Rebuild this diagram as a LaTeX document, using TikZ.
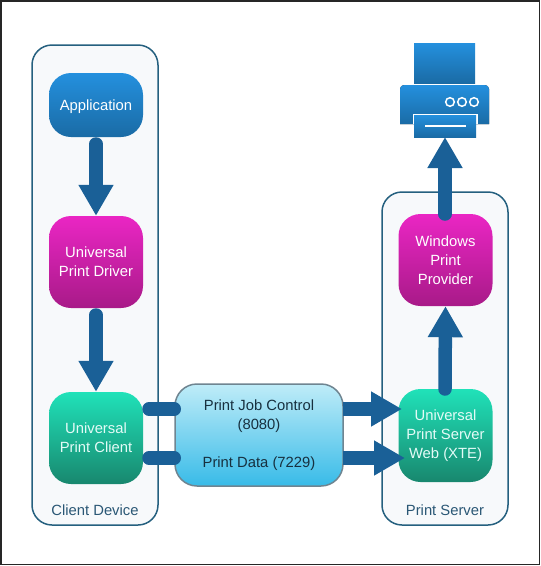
\documentclass[tikz,border=0pt]{standalone}
\usepackage{fontspec}
\setmainfont{Liberation Sans}
\usetikzlibrary{arrows.meta,positioning,calc}
\definecolor{flowblue}{HTML}{1A6097}
\definecolor{grpline}{HTML}{25607F}
\definecolor{grpfill}{HTML}{F7F9FB}
\definecolor{grptext}{HTML}{2A5775}
\definecolor{blueA}{HTML}{2490DE}
\definecolor{blueB}{HTML}{1A6BA5}
\definecolor{pinkA}{HTML}{EA26C4}
\definecolor{pinkB}{HTML}{A81A88}
\definecolor{tealA}{HTML}{20E2B9}
\definecolor{tealB}{HTML}{18876E}
\definecolor{skyA}{HTML}{BFECF8}
\definecolor{skyB}{HTML}{38BBE8}
\definecolor{midline}{HTML}{6F8591}
\definecolor{midtext}{HTML}{17303F}
\begin{document}
\begin{tikzpicture}[
  x=1pt, y=-1pt,
  grp/.style={draw=grpline, fill=grpfill, line width=1.5pt, rounded corners=20pt, minimum width=126pt, inner sep=0pt},
  blk/.style={rounded corners=22pt, minimum width=94pt, inner sep=0pt, text=white, align=center,
    font=\fontsize{14.8}{19}\selectfont},
  appblk/.style={blk, top color=blueA, bottom color=blueB, minimum height=64pt, text height=14.6pt, text depth=3.1pt},
  pinkblk/.style={blk, top color=pinkA, bottom color=pinkB, minimum height=92pt},
  tealblk/.style={blk, top color=tealA, bottom color=tealB, minimum height=93pt, text=white!88!tealA},
  lbl/.style={font=\fontsize{14.8}{19}\selectfont, text=grptext},
  flow/.style={draw=flowblue, line width=13.5pt, line cap=round, -{Triangle[length=31pt,width=33pt]}},
  bar/.style={draw=flowblue, line width=13.5pt, line cap=round},
  ink/.style={top color=blueA, bottom color=blueB}
]
\useasboundingbox (0,0) rectangle (541,566);
\fill[white] (0,0) rectangle (541,566);
\draw[line width=1.5pt, draw=black!85] (0.75,0.75) rectangle (539.5,564.5);

\node[grp, minimum height=480pt] (CD) at (95,285) {};
\node[grp, minimum height=333pt] (PS) at (445,358.5) {};
\node[lbl] (CDlbl) at (95,510) {Client Device};
\node[lbl] (PSlbl) at (445,510) {Print Server};

\coordinate (J0) at (149,409);
\coordinate (D0) at (149,458);
\coordinate (J1) at (343,409);
\coordinate (D1) at (343,458);
\coordinate (J2) at (402,409);
\coordinate (D2) at (405,458);
\coordinate (AppOut) at (96,144);
\coordinate (DrvOut) at (96,315);
\coordinate (WinOut) at (445,214);
\coordinate (XteOut) at (445,389);

\node[appblk] (App) at (96,105) {Application};
\node[pinkblk] (Drv) at (96,262) {Universal\\Print Driver};
\node[tealblk, minimum height=92pt] (Cli) at (96,438) {Universal\\Print Client};
\node[pinkblk] (Win) at (445.5,260) {Windows\\Print\\Provider};
\node[tealblk] (Xte) at (445.5,435.5) {Universal\\Print Server\\Web (XTE)};

\node[rounded corners=22pt, minimum width=168pt, minimum height=102pt, inner sep=0pt, draw=midline, line width=1.5pt,
  top color=skyA, bottom color=skyB, text=midtext, align=center, font=\fontsize{14.8}{19}\selectfont] (Mid) at (259,435)
  {Print Job Control\\(8080)\\[19pt]Print Data (7229)};

% printer
\fill[ink] (414,43) rectangle (475,83);
\fill[ink] (400,124) {[rounded corners=4pt] -- (400,85) -- (489,85)} -- (489,124) -- cycle;
\fill[white] (412.5,113.5) rectangle (477.5,124);
\fill[ink] (414,115) rectangle (476,137);
\draw[white, line width=1.5pt] (425,126) -- (466,126);
\foreach \cx in {450,462,474}
  \draw[white, line width=1.5pt] (\cx,102) circle[radius=4.3];
\coordinate (Prn) at (445,137);

\draw[flow] (AppOut) -- (Drv.north);
\draw[flow] (DrvOut) -- (Cli.north);
\draw[flow] (WinOut) -- (Prn);
\draw[flow] (XteOut) -- (Win.south);
\draw[bar] (J0) -- (Mid.west |- J0);
\draw[bar] (D0) -- (Mid.west |- D0);
\draw[flow, line cap=butt] (J1) -- (J2);
\draw[flow, line cap=butt] (D1) -- (D2);
\end{tikzpicture}
\end{document}
